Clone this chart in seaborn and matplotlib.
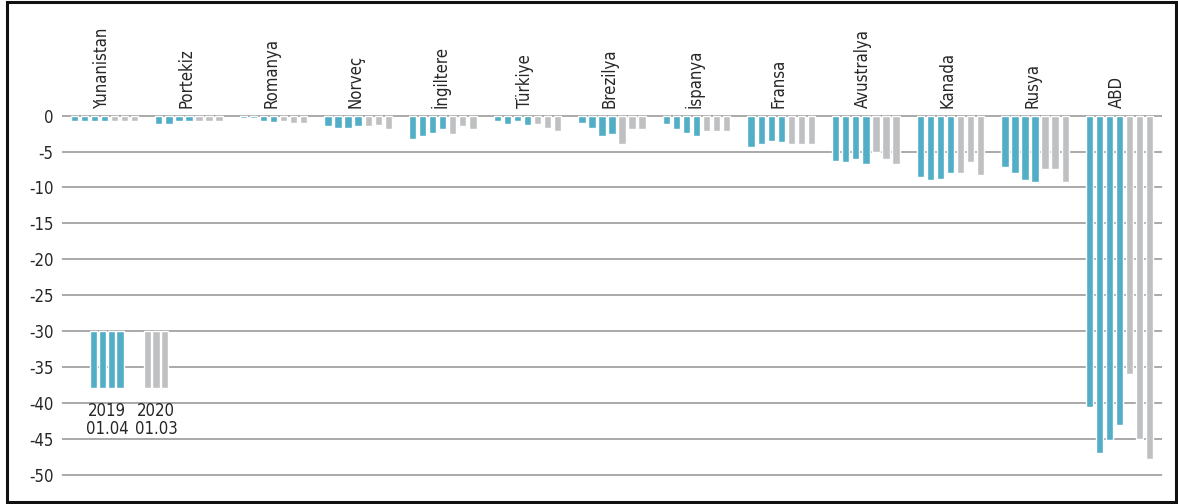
import matplotlib
matplotlib.use("Agg")
import matplotlib.pyplot as plt
from matplotlib.patches import Rectangle
import pandas as pd
import seaborn as sns

countries = ["Yunanistan", "Portekiz", "Romanya", "Norveç", "İngiltere", "Türkiye",
             "Brezilya", "İspanya", "Fransa", "Avustralya", "Kanada", "Rusya", "ABD"]

# four 2019 readings (teal) and three 2020 readings (gray) per country
y2019_1 = [-0.7, -1.1, -0.3, -1.4, -3.2, -0.8, -1.0, -1.1, -4.3, -6.25, -8.5, -7.2, -40.6]
y2019_2 = [-0.7, -1.1, -0.3, -1.7, -2.8, -1.1, -1.7, -1.8, -3.9, -6.4, -9.0, -8.05, -47.0]
y2019_3 = [-0.7, -0.7, -0.7, -1.7, -2.4, -0.8, -2.8, -2.4, -3.5, -6.0, -8.8, -9.0, -45.2]
y2019_4 = [-0.7, -0.7, -0.9, -1.4, -1.8, -1.25, -2.5, -2.8, -3.7, -6.7, -8.05, -9.2, -43.1]
y2020_1 = [-0.7, -0.7, -0.7, -1.5, -2.5, -1.1, -3.9, -2.2, -4.0, -5.1, -8.05, -7.4, -36.0]
y2020_2 = [-0.7, -0.7, -1.0, -1.25, -1.4, -1.7, -1.9, -2.2, -3.9, -6.1, -6.5, -7.5, -45.1]
y2020_3 = [-0.7, -0.7, -1.0, -1.8, -1.8, -2.1, -1.9, -2.2, -4.0, -6.8, -8.3, -9.3, -47.9]

periods = ["2019-1", "2019-2", "2019-3", "2019-4", "2020-1", "2020-2", "2020-3"]
series = [y2019_1, y2019_2, y2019_3, y2019_4, y2020_1, y2020_2, y2020_3]

legend_labels = ["2019\n01.04", "2020\n01.03"]
legend_counts = [4, 3]
legend_top, legend_bottom = -30, -38

teal = "#52adc6"
gray = "#bfc0c2"
palette = [teal] * 4 + [gray] * 3

rows = []
for p, vals in zip(periods, series):
    for c, v in zip(countries, vals):
        rows.append({"ulke": c, "donem": p, "deger": v})
df = pd.DataFrame(rows)

sns.set_style("white")
plt.rcParams["font.family"] = ["DejaVu Sans"]
plt.rcParams["font.stretch"] = "condensed"

fig = plt.figure(figsize=(11.78, 5.04), dpi=100)
ax = fig.add_axes([62 / 1178, 0.0528, 1100 / 1178, 0.7234])

sns.barplot(data=df, x="ulke", y="deger", hue="donem", hue_order=periods,
            palette=palette, width=0.83, gap=0.27, legend=False,
            saturation=1, ax=ax, zorder=3)

ax.set_xlim(-0.5, len(countries) - 0.5)
ax.set_ylim(-50.4, 0.4)
ax.set_yticks(range(0, -55, -5))
ax.set_yticklabels([str(t) for t in range(0, -55, -5)], fontsize=12)
ax.tick_params(axis="y", length=0, pad=6)
ax.set_xticks([])
ax.set_xlabel("")
ax.set_ylabel("")
ax.yaxis.grid(True, color="#a3a3a3", linewidth=1.3)
ax.set_axisbelow(True)
for s in ax.spines.values():
    s.set_visible(False)

# country names above the zero line
for i, c in enumerate(countries):
    ax.text(i - 0.03, 1.0, c, rotation=90, ha="center", va="bottom",
            fontsize=12, clip_on=False)

# hand-drawn legend under the first two groups
pitch = 0.103
lx = [0.03, 0.61]
for x0, n, col, lab in zip(lx, legend_counts, [teal, gray], legend_labels):
    xs = [x0 + (k - (n - 1) / 2) * pitch for k in range(n)]
    ax.bar(xs, [legend_bottom - legend_top] * n, bottom=legend_top,
           width=0.086, color=col, zorder=3)
    ax.text(x0, legend_bottom - 1.9, lab, ha="center", va="top",
            fontsize=12, linespacing=1.0)

fig.patches.append(Rectangle((6.5 / 1178, 2.5 / 504), 1169 / 1178, 500 / 504,
                             transform=fig.transFigure, fill=False,
                             edgecolor="#111111", linewidth=2.2))

fig.savefig("out.png", dpi=100)
